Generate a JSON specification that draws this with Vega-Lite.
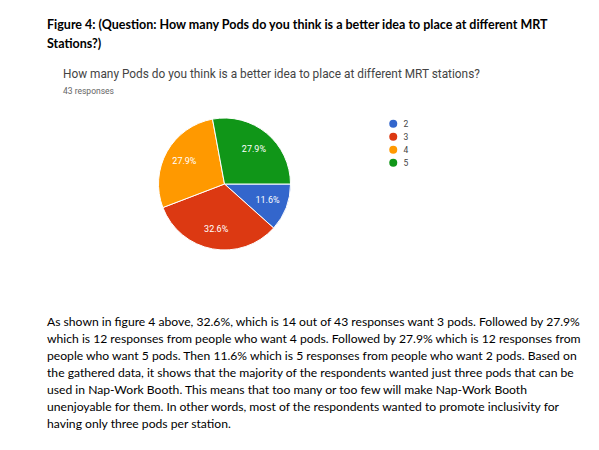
{
  "$schema": "https://vega.github.io/schema/vega-lite/v6.json",
  "background": "white",
  "padding": {"left": 47, "top": 18, "right": 0, "bottom": 0},
  "config": {"view": {"stroke": null}},
  "title": {
    "text": ["Figure 4: (Question: How many Pods do you think is a better idea to place at different MRT", "Stations?)"],
    "anchor": "start",
    "font": "Lato",
    "fontSize": 12.5,
    "fontWeight": "bold",
    "color": "#000000",
    "lineHeight": 19,
    "offset": 19
  },
  "spacing": 54.5,
  "vconcat": [
    {
      "width": 355,
      "height": 150,
      "title": {
        "text": "How many Pods do you think is a better idea to place at different MRT stations?",
        "subtitle": "43 responses",
        "anchor": "start",
        "dx": 16,
        "font": "Roboto",
        "fontSize": 11.85,
        "fontWeight": "normal",
        "color": "#444444",
        "subtitleFont": "Roboto",
        "subtitleFontSize": 8.5,
        "subtitleColor": "#666666",
        "subtitlePadding": 6,
        "offset": 13.5
      },
      "data": {
        "values": [
          {"pods": "2", "responses": 5, "label": "11.6%"},
          {"pods": "3", "responses": 14, "label": "32.6%"},
          {"pods": "4", "responses": 12, "label": "27.9%"},
          {"pods": "5", "responses": 12, "label": "27.9%"}
        ]
      },
      "encoding": {
        "theta": {"field": "responses", "type": "quantitative", "stack": true, "scale": {"range": [1.5708, 7.854]}},
        "color": {
          "field": "pods",
          "type": "nominal",
          "scale": {"domain": ["2", "3", "4", "5"], "range": ["#3366CC", "#DC3912", "#FF9900", "#109618"]},
          "legend": {
            "title": null,
            "orient": "none",
            "legendX": 342,
            "legendY": 10.5,
            "symbolType": "circle",
            "symbolSize": 64,
            "symbolStrokeWidth": 0,
            "labelFont": "Roboto",
            "labelFontSize": 8.5,
            "labelColor": "#444444",
            "labelOffset": 6,
            "rowPadding": 4
          }
        },
        "order": {"field": "pods", "sort": "ascending"}
      },
      "layer": [
        {"mark": {"type": "arc", "outerRadius": 66, "stroke": "white", "strokeWidth": 1}},
        {
          "mark": {"type": "text", "radius": 46, "fill": "white", "font": "Roboto", "fontSize": 9},
          "encoding": {"text": {"field": "label"}}
        }
      ]
    },
    {
      "width": 530,
      "height": {"step": 17},
      "data": {
        "values": [
          {"line": 1, "text": "As shown in figure 4 above, 32.6%, which is 14 out of 43 responses want 3 pods. Followed by 27.9%"},
          {"line": 2, "text": "which is 12 responses from people who want 4 pods. Followed by 27.9% which is 12 responses from"},
          {"line": 3, "text": "people who want 5 pods. Then 11.6% which is 5 responses from people who want 2 pods. Based on"},
          {"line": 4, "text": "the gathered data, it shows that the majority of the respondents wanted just three pods that can be"},
          {"line": 5, "text": "used in Nap-Work Booth. This means that too many or too few will make Nap-Work Booth"},
          {"line": 6, "text": "unenjoyable for them. In other words, most of the respondents wanted to promote inclusivity for"},
          {"line": 7, "text": "having only three pods per station."}
        ]
      },
      "mark": {"type": "text", "align": "left", "baseline": "middle", "font": "Lato", "fontSize": 12.15, "color": "#000000"},
      "encoding": {
        "y": {"field": "line", "type": "ordinal", "axis": null},
        "x": {"datum": 0, "type": "quantitative", "scale": {"domain": [0, 1]}, "axis": null},
        "text": {"field": "text"}
      }
    }
  ]
}
